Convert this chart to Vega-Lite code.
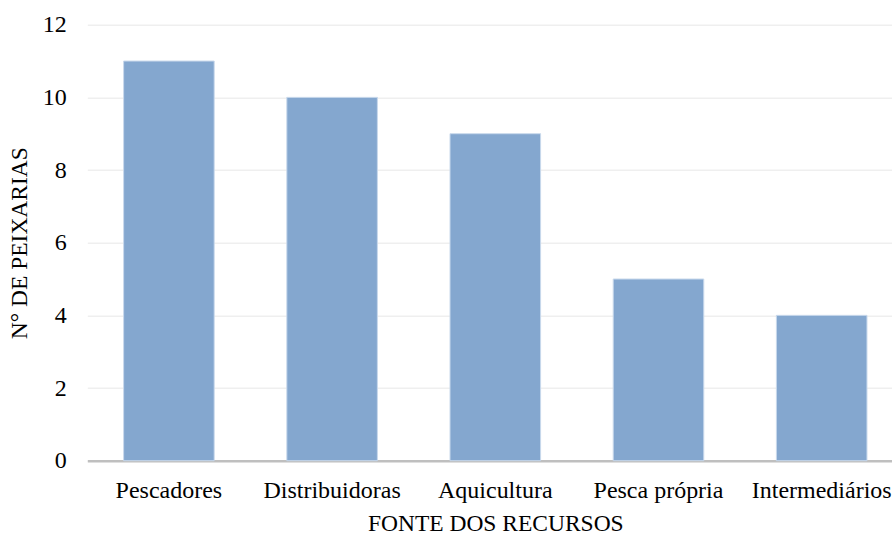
{
  "$schema": "https://vega.github.io/schema/vega-lite/v6.json",
  "autosize": {"type": "none"},
  "padding": {"left": 87.3, "top": 24.7, "right": 0, "bottom": 75},
  "width": 816,
  "height": 436,
  "background": "white",
  "data": {"values": [
    {"fonte": "Pescadores", "n": 11},
    {"fonte": "Distribuidoras", "n": 10},
    {"fonte": "Aquicultura", "n": 9},
    {"fonte": "Pesca própria", "n": 5},
    {"fonte": "Intermediários", "n": 4}
  ]},
  "config": {
    "view": {"stroke": null},
    "font": "Liberation Serif, Times New Roman, serif",
    "axis": {
      "labelFont": "Liberation Serif, Times New Roman, serif",
      "titleFont": "Liberation Serif, Times New Roman, serif",
      "labelFontSize": 24,
      "titleFontSize": 23.5,
      "labelColor": "#000000",
      "titleColor": "#000000",
      "titleFontWeight": "normal",
      "ticks": false
    }
  },
  "mark": {"type": "bar", "color": "#84a7cf", "stroke": "#c9d9ec", "strokeWidth": 1},
  "encoding": {
    "x": {
      "field": "fonte",
      "type": "nominal",
      "sort": null,
      "scale": {"paddingInner": 0.445, "paddingOuter": 0.2225},
      "axis": {
        "title": "FONTE DOS RECURSOS",
        "labelAngle": 0,
        "labelPadding": 18,
        "titlePadding": 9,
        "domainColor": "#bfbfbf",
        "domainWidth": 2.5,
        "grid": false
      }
    },
    "y": {
      "field": "n",
      "type": "quantitative",
      "scale": {"domain": [0, 12]},
      "axis": {
        "title": "N° DE PEIXARIAS",
        "values": [0, 2, 4, 6, 8, 10, 12],
        "domain": false,
        "grid": true,
        "gridColor": "#efefef",
        "gridWidth": 1.5,
        "labelPadding": 21,
        "titlePadding": 11
      }
    }
  }
}
